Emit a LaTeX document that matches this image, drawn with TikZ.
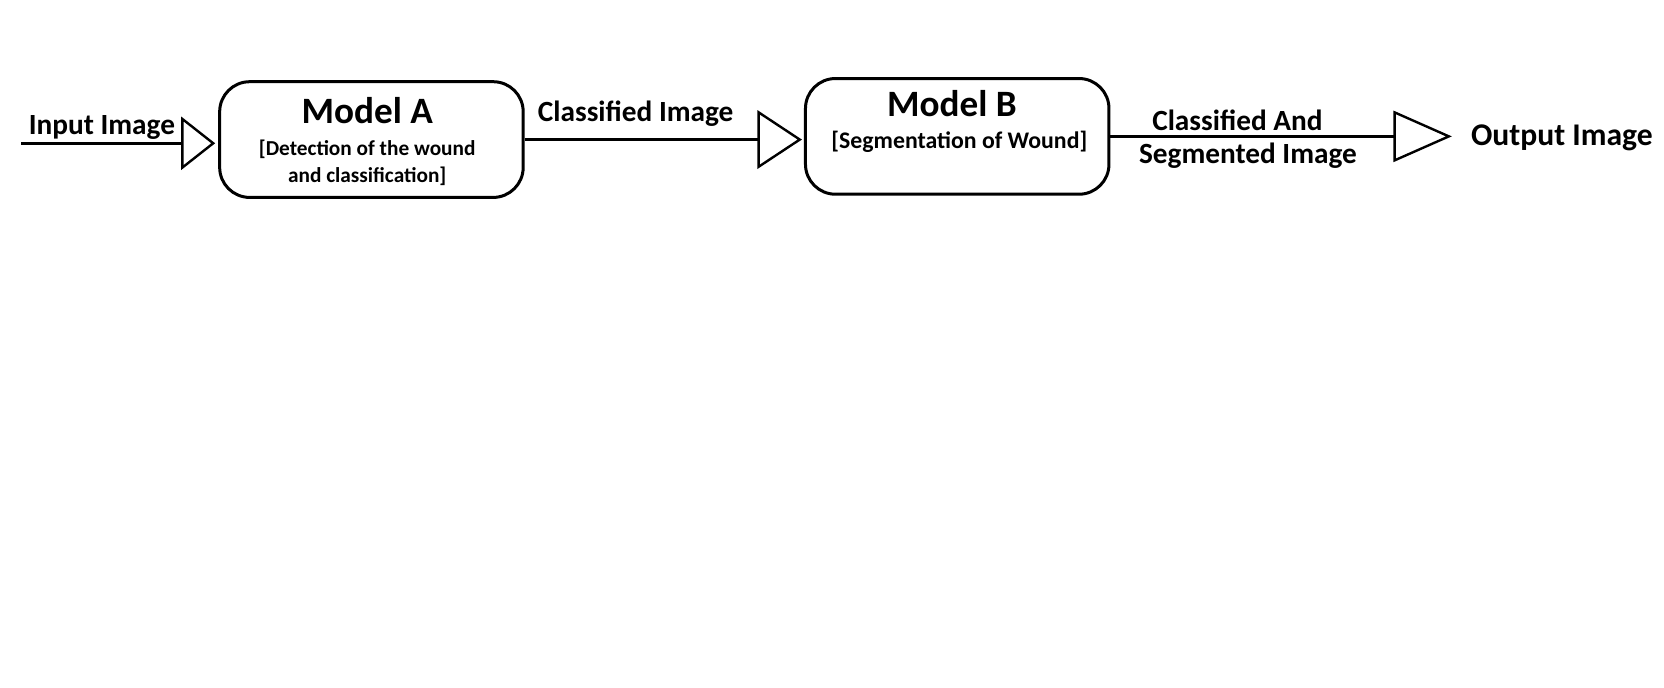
\documentclass[tikz,border=0pt]{standalone}
\usepackage{fontspec}
\setmainfont{Carlito}
\usetikzlibrary{arrows.meta, positioning}

\begin{document}
\begin{tikzpicture}[x=1.0612pt, y=-1.0612pt,
    modelbox/.style={draw, line width=3pt, rounded corners=30pt, minimum width=303.5pt, minimum height=115.7pt, inner sep=0pt},
    flow/.style 2 args={line width=3pt, -{Triangle[open, length=#1, width=#2, line width=2.4pt]}},
    tag/.style={font=\bfseries\fontsize{29.3}{34}\selectfont, inner sep=0pt},
    title/.style={font=\bfseries\fontsize{37.2}{42}\selectfont, inner sep=0pt},
    sub/.style={font=\bfseries\fontsize{21.3}{27}\selectfont, align=center, inner sep=0pt}]
    \useasboundingbox (0,0) rectangle (1568,647.4);

    % Models
    \node[modelbox] (modelA) at (350,131.5) {};
    \node[modelbox] (modelB) at (902,128.5) {};
    \node[title] (titleA) at (346,104) {Model A};
    \node[sub] (subA) at (346,153) {[Detection of the wound\\and classification]};
    \node[title] (titleB) at (897,98) {Model B};
    \node[sub, font=\bfseries\fontsize{23.8}{28}\selectfont] (subB) at (904,134) {[Segmentation of Wound]};

    % Input and output
    \coordinate (in) at (20,135);
    \node[tag, font=\bfseries\fontsize{31.6}{36}\selectfont, anchor=west] (out) at (1386,130) {Output Image};

    % Flow
    \draw[flow={34pt}{53pt}, shorten >=3pt] (in) -- (in -| modelA.west);
    \draw[flow={44.6pt}{58.4pt}, shorten >=2pt] (modelA.east) -- (modelA.east -| modelB.west);
    \draw[flow={58.4pt}{51pt}, shorten >=19pt] (modelB.east) -- (modelB.east -| out.west);

    % Labels
    \node[tag] (lblIn) at (96,120) {Input Image};
    \node[tag] (lblAB) at (599,107) {Classified Image};
    \node[tag] (lblOut1) at (1166,113) {Classified And};
    \node[tag] (lblOut2) at (1176,147) {Segmented Image};
\end{tikzpicture}
\end{document}
